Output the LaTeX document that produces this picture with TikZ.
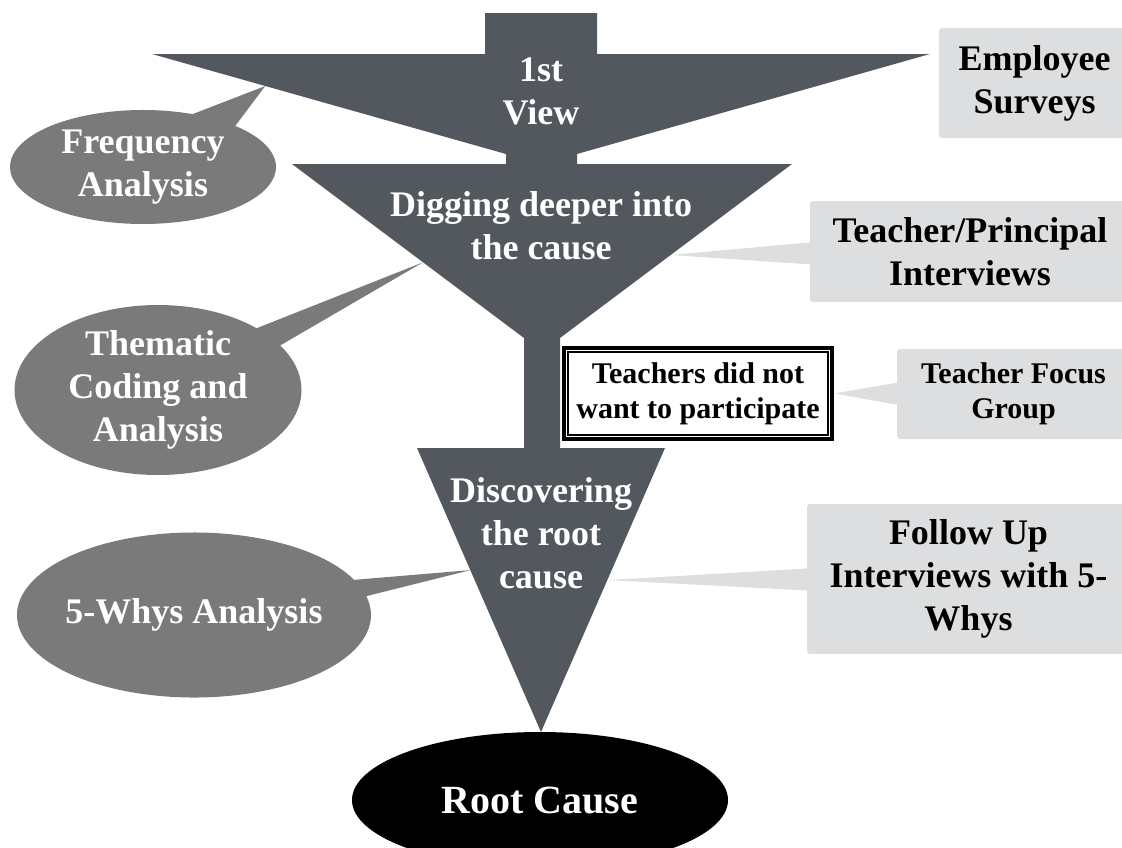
\documentclass[tikz,border=0pt]{standalone}
\usepackage{fontspec}
\setmainfont{Liberation Serif}
\usetikzlibrary{shapes.callouts,shapes.geometric,calc}
\definecolor{funnelgray}{RGB}{83,87,94}
\definecolor{bubblegray}{RGB}{122,122,122}
\definecolor{toolgray}{RGB}{221,222,224}
\tikzset{
  bigtext/.style={font=\fontsize{36}{43}\selectfont\bfseries},
  smalltext/.style={font=\fontsize{30}{35}\selectfont\bfseries},
  stage/.style={bigtext, text=white, align=center, inner sep=0pt},
  bubble/.style={ellipse callout, fill=bubblegray, bigtext, text=white, align=center, inner sep=-10pt, callout pointer arc=15},
  tool/.style={rectangle callout, fill=toolgray, rounded corners=3pt, align=center, inner sep=0pt, callout pointer width=22pt}
}
\begin{document}
\begin{tikzpicture}[x=1pt,y=-1pt]
	\useasboundingbox (0,0) rectangle (1122,847);
	\clip (0,0) rectangle (1122,847);
	\coordinate (w1l) at (152,54);
	\coordinate (w1r) at (930,54);
	\coordinate (n1l) at (506,154);
	\coordinate (n1r) at (577,154);
	\coordinate (w2l) at (292,164);
	\coordinate (w2r) at (792,164);
	\coordinate (n2l) at (524,338);
	\coordinate (n2r) at (560,338);
	\coordinate (w3l) at (417,448);
	\coordinate (w3r) at (665,448);
	\coordinate (apex) at (541,732);
	\fill[funnelgray] (485,13) -- (597,13) -- (597,54) -- (w1r) -- (n1r) -- (577,164) -- (w2r) -- (n2r) -- (560,448) -- (w3r) -- (apex)
		-- (w3l) -- (524,448) -- (n2l) -- (w2l) -- (506,164) -- (n1l) -- (w1l) -- (485,54) -- cycle;
	\node[stage] (view) at (541,91) {1st\\View};
	\node[stage] (dig) at (541,226) {Digging deeper into\\the cause};
	\node[stage] (disc) at (541,533) {Discovering\\the root\\cause};
	\node[ellipse, fill=black, minimum width=376pt, minimum height=136pt, inner sep=0pt, text=white, font=\fontsize{40}{46}\selectfont\bfseries] (root) at (540,800) {Root Cause};
	\node[draw, line width=4pt, fill=white, minimum width=268pt, minimum height=91pt, inner sep=0pt, smalltext, align=center] (note) at (698,393.5) {Teachers did not\\want to participate};
	\draw[line width=1.5pt] ($(note.north west)+(6,6)$) rectangle ($(note.south east)+(-6,-6)$);
	\node[bubble, minimum width=266pt, minimum height=114pt, callout pointer arc=22, callout absolute pointer={($(w1l)!0.32!(n1l)$)}] (freq) at (143,167) {Frequency\\Analysis};
	\node[bubble, minimum width=287pt, minimum height=170pt, callout absolute pointer={($(w2l)!0.565!(n2l)$)}] (theme) at (158,390) {Thematic\\Coding and\\Analysis};
	\node[bubble, minimum width=354pt, minimum height=165pt, callout pointer arc=12, callout absolute pointer={($(w3l)!0.43!(apex)$)}] (whys) at (194,615) {5-Whys Analysis};
	\node[fill=toolgray, rounded corners=3pt, minimum width=191pt, minimum height=110pt, inner sep=0pt, bigtext, align=center] (survey) at (1034.5,83) {Employee\\Surveys};
	\node[tool, bigtext, minimum width=320pt, minimum height=101pt, callout absolute pointer={($(w2r)!0.523!(n2r)$)}] (interv) at (970,251.5) {Teacher/Principal\\Interviews};
	\node[tool, smalltext, minimum width=233pt, minimum height=90pt, callout absolute pointer={(note.east)}] (focus) at (1013.5,394) {Teacher Focus\\Group};
	\node[tool, bigtext, minimum width=323pt, minimum height=150pt, callout absolute pointer={($(w3r)!0.465!(apex)$)}] (follow) at (968.5,579) {Follow Up\\Interviews with 5-\\Whys};
\end{tikzpicture}
\end{document}
